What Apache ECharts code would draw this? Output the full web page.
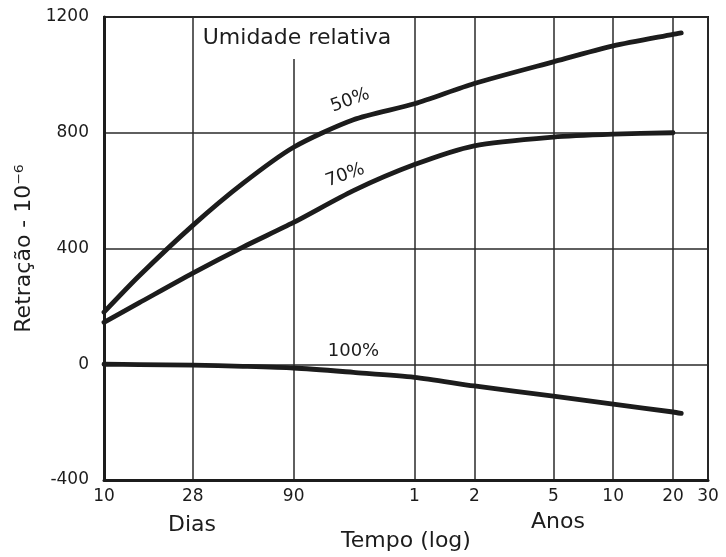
<!DOCTYPE html>
<html lang="pt">
<head>
	<meta charset="UTF-8">
	<title>Retração x tempo</title>
	<script src="https://cdn.jsdelivr.net/npm/echarts@6/dist/echarts.min.js"></script>
	<style>
		html, body { margin: 0; padding: 0; background: #fff; }
	</style>
</head>
<body>
	<div id="main" style="width: 726px;height:557px;"></div>
</body>
</html>

<script type="text/javascript">
// tempo em dias (eixo log), retração em 10^-6
var tempoDias = [10, 15, 28, 50, 90, 180, 365, 730, 1825, 3650, 7300, 8030];
var umidade50 = [180, 305, 480, 625, 750, 845, 900, 970, 1045, 1100, 1140, 1145];
var umidade70 = [145, 212, 315, 405, 490, 600, 690, 755, 785, 795, 800, null];
var umidade100 = [0, -1, -3, -7, -13, -28, -45, -75, -110, -138, -165, -170];

var ticksDias = [10, 28, 90, 365, 730, 1825, 3650, 7300, 10950];
var ticksRotulos = ['10', '28', '90', '1', '2', '5', '10', '20', '30'];

var nomes = ['50%', '70%', '100%'];
var posRotulo = 5; // ponto onde fica o rótulo de cada curva

var cor = '#1c1c1c';
var fonte = '"DejaVu Sans", sans-serif';

function lx(d) { return Math.log10(d); }

function serie(nome, valores, rot, offset) {
	return {
		name: nome,
		type: 'line',
		smooth: 0.25,
		symbol: 'circle',
		symbolSize: 1,
		showSymbol: true,
		itemStyle: { color: cor },
		lineStyle: { color: cor, width: 4.8, cap: 'round', join: 'round' },
		label: {
			show: true,
			position: 'top',
			distance: 4,
			rotate: rot,
			offset: offset,
			color: cor,
			fontFamily: fonte,
			fontSize: 18,
			formatter: function (p) { return p.dataIndex === posRotulo ? nome : ''; }
		},
		data: tempoDias.map(function (d, i) { return [lx(d), valores[i]]; })
	};
}

var mychart = echarts.init(document.getElementById('main'));

var option = {
	animation: false,
	backgroundColor: '#fff',
	grid: {
		left: 104, right: 18, top: 17, bottom: 76,
		show: true, borderColor: cor, borderWidth: 2
	},
	xAxis: {
		type: 'value',
		min: lx(10),
		max: lx(10950),
		name: 'Tempo (log)',
		nameLocation: 'middle',
		nameGap: 50,
		nameTextStyle: { color: cor, fontFamily: fonte, fontSize: 22 },
		axisLine: { show: true, onZero: false, lineStyle: { color: cor, width: 3 } },
		axisTick: { show: false, customValues: ticksDias.map(lx) },
		axisLabel: {
			customValues: ticksDias.map(lx),
			margin: 8,
			color: cor,
			fontFamily: fonte,
			fontSize: 17,
			formatter: function (v) {
				for (var i = 0; i < ticksDias.length; i++) {
					if (Math.abs(lx(ticksDias[i]) - v) < 1e-6) return ticksRotulos[i];
				}
				return '';
			}
		},
		splitLine: { show: true, lineStyle: { color: '#2a2a2a', width: 1.5 } }
	},
	yAxis: {
		type: 'value',
		min: -400,
		max: 1200,
		interval: 400,
		name: 'Retração - 10⁻⁶',
		nameLocation: 'middle',
		nameGap: 66,
		nameTextStyle: { color: cor, fontFamily: fonte, fontSize: 22 },
		axisLine: { show: true, onZero: false, lineStyle: { color: cor, width: 3 } },
		axisTick: { show: false },
		axisLabel: {
			margin: 15, color: cor, fontFamily: fonte, fontSize: 17,
			formatter: function (v) { return String(v); }
		},
		splitLine: { show: true, lineStyle: { color: '#2a2a2a', width: 1.5 } }
	},
	graphic: [
		{
			type: 'text', z: 100,
			style: {
				x: 297, y: 18, text: 'Umidade relativa',
				align: 'center', verticalAlign: 'top',
				font: '22px ' + fonte, fill: cor,
				backgroundColor: '#fff', padding: [9, 6, 10, 6]
			}
		},
		{
			type: 'text',
			style: { x: 192, y: 525, text: 'Dias', align: 'center', verticalAlign: 'middle', font: '22px ' + fonte, fill: cor }
		},
		{
			type: 'text',
			style: { x: 558, y: 522, text: 'Anos', align: 'center', verticalAlign: 'middle', font: '22px ' + fonte, fill: cor }
		}
	],
	series: [
		serie(nomes[0], umidade50, 20, [2, -6]),
		serie(nomes[1], umidade70, 20, [-4, -4]),
		serie(nomes[2], umidade100, 0, [0, -8])
	]
};
mychart.setOption(option);
</script>
